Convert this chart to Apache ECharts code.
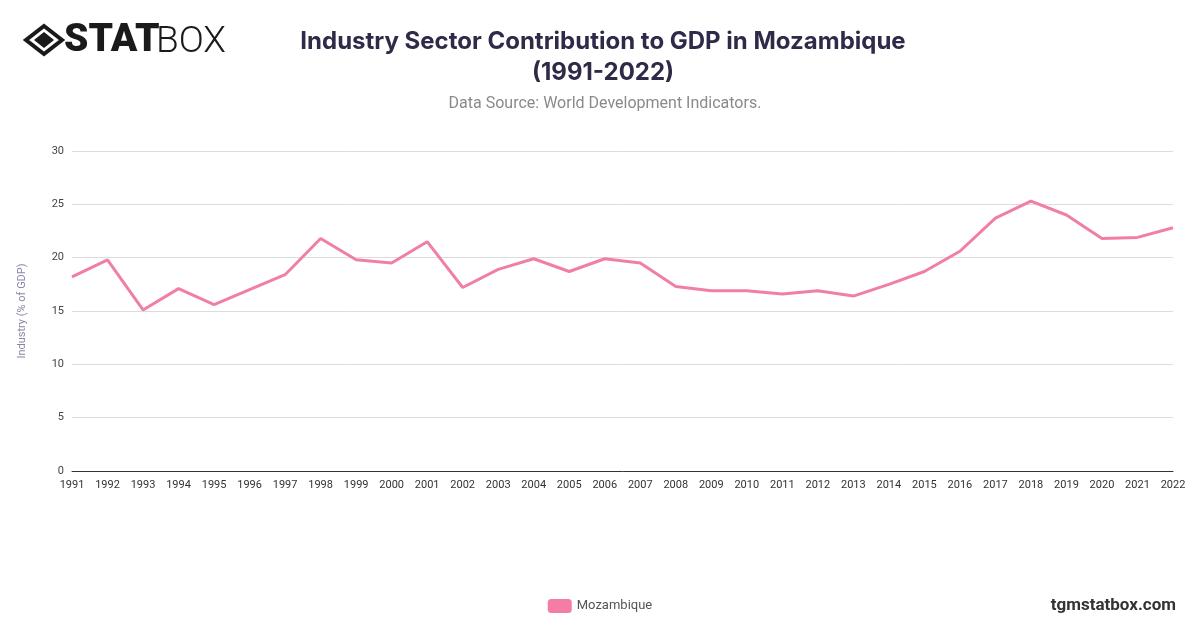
<!DOCTYPE html>
<html>
<head>
<meta charset="utf-8">
<script src="https://cdn.jsdelivr.net/npm/echarts@6/dist/echarts.min.js"></script>
<style>
  html, body { margin: 0; padding: 0; background: #fff; }
  #main { width: 1200px; height: 628px; }
</style>
</head>
<body>
<div id="main"></div>
<script type="text/javascript">
    var years = ['1991', '1992', '1993', '1994', '1995', '1996', '1997', '1998', '1999', '2000',
        '2001', '2002', '2003', '2004', '2005', '2006', '2007', '2008', '2009', '2010',
        '2011', '2012', '2013', '2014', '2015', '2016', '2017', '2018', '2019', '2020',
        '2021', '2022'];
    var industryShare = [18.2, 19.8, 15.1, 17.1, 15.6, 17.0, 18.4, 21.8, 19.8, 19.5,
        21.5, 17.2, 18.9, 19.9, 18.7, 19.9, 19.5, 17.3, 16.9, 16.9,
        16.6, 16.9, 16.4, 17.5, 18.7, 20.6, 23.7, 25.3, 24.0, 21.8,
        21.9, 22.8];
    var yTicks = [0, 5, 10, 15, 20, 25, 30];

    var ec = echarts.init(document.getElementById('main'));

    var option = {
        animation: false,
        title: [{
            text: 'Industry Sector Contribution to GDP in Mozambique\n(1991-2022)',
            left: 598,
            top: 21,
            textAlign: 'center',
            textStyle: {
                fontFamily: 'Inter',
                fontSize: 24,
                fontWeight: 'bold',
                color: '#2e2a48',
                lineHeight: 31
            }
        }, {
            text: 'Data Source: World Development Indicators.',
            left: 600,
            top: 91,
            textAlign: 'center',
            textStyle: {
                fontFamily: 'Roboto',
                fontSize: 16,
                fontWeight: 'normal',
                color: '#8a8a8a'
            }
        }],
        grid: {
            left: 72,
            right: 27,
            top: 151,
            bottom: 157
        },
        legend: {
            bottom: 10,
            left: 'center',
            itemWidth: 24,
            itemHeight: 14,
            icon: 'roundRect',
            textStyle: { fontFamily: 'Roboto', fontSize: 13, color: '#555' },
            data: ['Mozambique']
        },
        xAxis: {
            type: 'category',
            data: years,
            boundaryGap: false,
            axisLine: { lineStyle: { color: '#333', width: 1 } },
            axisTick: { show: false },
            axisLabel: {
                interval: 0,
                fontFamily: 'Roboto',
                fontSize: 11,
                color: '#333',
                margin: 9
            }
        },
        yAxis: {
            type: 'value',
            min: yTicks[0],
            max: yTicks[yTicks.length - 1],
            interval: 5,
            name: 'Industry (% of GDP)',
            nameLocation: 'middle',
            nameGap: 44,
            nameTextStyle: { fontFamily: 'Roboto', fontSize: 11, color: '#8a86a8' },
            axisLine: { show: false },
            axisTick: { show: false },
            splitLine: { lineStyle: { color: '#dcdcdc' } },
            axisLabel: {
                fontFamily: 'Roboto',
                fontSize: 11,
                color: '#444',
                margin: 8
            }
        },
        series: [{
            name: 'Mozambique',
            type: 'line',
            data: industryShare,
            showSymbol: false,
            symbol: 'none',
            itemStyle: { color: '#f47ca6' },
            lineStyle: { color: '#f07fa7', width: 3 }
        }],
        graphic: [
            // logo icon
            {
                type: 'polygon',
                shape: { points: [[44, 26], [62, 40], [44, 54], [26, 40]] },
                style: { fill: 'none', stroke: '#1a1a1a', lineWidth: 4 }
            },
            {
                type: 'polygon',
                shape: { points: [[44, 32], [54, 40], [44, 48], [34, 40]] },
                style: { fill: '#1a1a1a' }
            },
            {
                type: 'text',
                left: 64,
                top: 22,
                style: {
                    text: 'STAT',
                    fontFamily: 'Roboto',
                    fontWeight: 900,
                    fontSize: 39,
                    fill: '#1a1a1a'
                }
            },
            {
                type: 'text',
                left: 156,
                top: 24,
                style: {
                    text: 'BOX',
                    fontFamily: 'Roboto',
                    fontWeight: 300,
                    fontSize: 37,
                    fill: '#1a1a1a'
                }
            },
            {
                type: 'text',
                right: 24,
                top: 597,
                style: {
                    text: 'tgmstatbox.com',
                    fontFamily: 'Roboto',
                    fontWeight: 'bold',
                    fontSize: 17,
                    fill: '#333'
                }
            }
        ]
    };

    ec.setOption(option);
</script>
</body>
</html>
